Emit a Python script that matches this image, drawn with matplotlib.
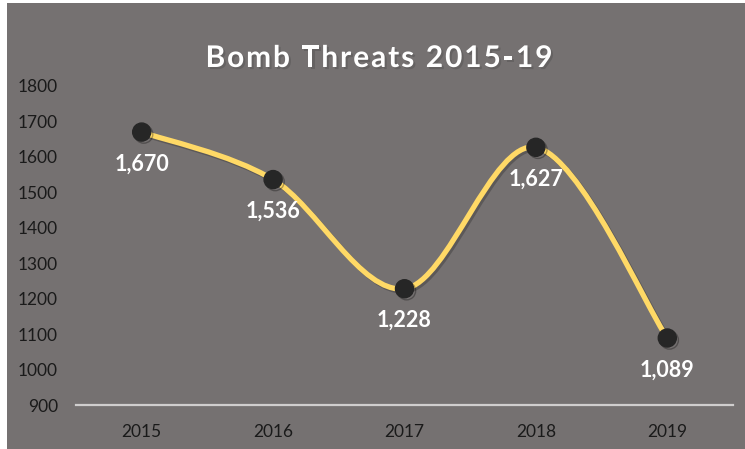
"""Recreate the Bomb Threats 2015-19 line chart."""

import matplotlib

matplotlib.use("Agg")
import matplotlib.pyplot as plt
import matplotlib.patheffects as pe
from matplotlib.patches import PathPatch, Rectangle
from matplotlib.path import Path

YEARS = ["2015", "2016", "2017", "2018", "2019"]
THREATS = [1670, 1536, 1228, 1627, 1089]
Y_TICKS = [900, 1000, 1100, 1200, 1300, 1400, 1500, 1600, 1700, 1800]
TITLE = "Bomb Threats 2015-19"

BG = "#757171"
LINE = "#FFD966"
TEXT_DARK = "#1a1a1a"


def smooth_path(xs, ys, tension=1 / 6):
    """Bezier path through the points, similar to a smoothed Excel line."""
    verts = [(xs[0], ys[0])]
    codes = [Path.MOVETO]
    n = len(xs)
    for i in range(n - 1):
        x0, y0 = (xs[i - 1], ys[i - 1]) if i > 0 else (xs[i], ys[i])
        x1, y1 = xs[i], ys[i]
        x2, y2 = xs[i + 1], ys[i + 1]
        x3, y3 = (xs[i + 2], ys[i + 2]) if i + 2 < n else (x2, y2)
        c1 = (x1 + (x2 - x0) * tension, y1 + (y2 - y0) * tension)
        c2 = (x2 - (x3 - x1) * tension, y2 - (y3 - y1) * tension)
        verts += [c1, c2, (x2, y2)]
        codes += [Path.CURVE4] * 3
    return Path(verts, codes)


def spaced_title(fig, text, x_center, y_center, spacing_px, **kwargs):
    """Draw a title with extra letter spacing, one character at a time."""
    renderer = fig.canvas.get_renderer()
    widths = []
    for ch in text:
        probe = fig.text(0, 0, "_" if ch == " " else ch, **kwargs)
        w = probe.get_window_extent(renderer).width
        probe.remove()
        if ch == " ":
            w *= 0.55
        widths.append(w)
    total = sum(widths) + spacing_px * (len(text) - 1)
    x_px = x_center * fig.bbox.width - total / 2
    for ch, w in zip(text, widths):
        if ch != " ":
            fig.text(x_px / fig.bbox.width, y_center, ch, ha="left", va="center",
                     **kwargs)
        x_px += w + spacing_px


def main() -> None:
    plt.rcParams["font.family"] = ["Lato", "DejaVu Sans"]

    fig = plt.figure(figsize=(7.45, 4.49), dpi=100, facecolor=BG)
    # thin white frame on the left and top like the screenshot
    fig.patches.append(Rectangle((0, 0), 7 / 745, 1, transform=fig.transFigure,
                                 facecolor="white", edgecolor="none", zorder=-1))
    fig.patches.append(Rectangle((0, 1 - 3 / 449), 1, 3 / 449, transform=fig.transFigure,
                                 facecolor="white", edgecolor="none", zorder=-1))

    ax = fig.add_axes([76 / 745, 1 - 405 / 449, (733 - 76) / 745, (405 - 86) / 449])
    ax.set_facecolor(BG)

    xs = list(range(len(YEARS)))
    path = smooth_path(xs, THREATS)
    line = PathPatch(path, facecolor="none", edgecolor=LINE, lw=3.8,
                     capstyle="round", zorder=2)
    line.set_path_effects([pe.SimpleLineShadow(offset=(1.5, -1.5), alpha=0.22,
                                               shadow_color="black"),
                           pe.Normal()])
    ax.add_patch(line)

    ax.plot(xs, THREATS, linestyle="none", marker="o", markersize=13,
            markerfacecolor="#262626", markeredgecolor="#262626", zorder=3,
            path_effects=[pe.SimpleLineShadow(offset=(1.5, -1.5), alpha=0.3),
                          pe.Normal()])

    for x, v in zip(xs, THREATS):
        ax.annotate(f"{v:,}", (x, v), xytext=(0, -23), textcoords="offset points",
                    ha="center", va="center", color="white", fontsize=15.5,
                    fontweight="bold", zorder=4)

    ax.set_xlim(-0.5, len(YEARS) - 0.5)
    ax.set_ylim(900, 1800)
    ax.set_xticks(xs)
    ax.set_xticklabels(YEARS)
    ax.set_yticks(Y_TICKS)
    ax.tick_params(axis="both", length=0, colors=TEXT_DARK, labelsize=12.5)
    ax.tick_params(axis="x", pad=14)
    ax.tick_params(axis="y", pad=13)

    for side in ["top", "right", "left"]:
        ax.spines[side].set_visible(False)
    ax.spines["bottom"].set_color("#d0cece")
    ax.spines["bottom"].set_linewidth(1.6)

    spaced_title(fig, TITLE, 379 / 745, 1 - 58 / 449, 1.9,
                 color="white", fontsize=21.5, fontweight="bold",
                 path_effects=[pe.SimplePatchShadow(offset=(1.5, -1.5), alpha=0.4),
                               pe.Normal()])

    fig.savefig("out.png", dpi=100, facecolor=fig.get_facecolor())
    plt.close(fig)


if __name__ == "__main__":
    main()
